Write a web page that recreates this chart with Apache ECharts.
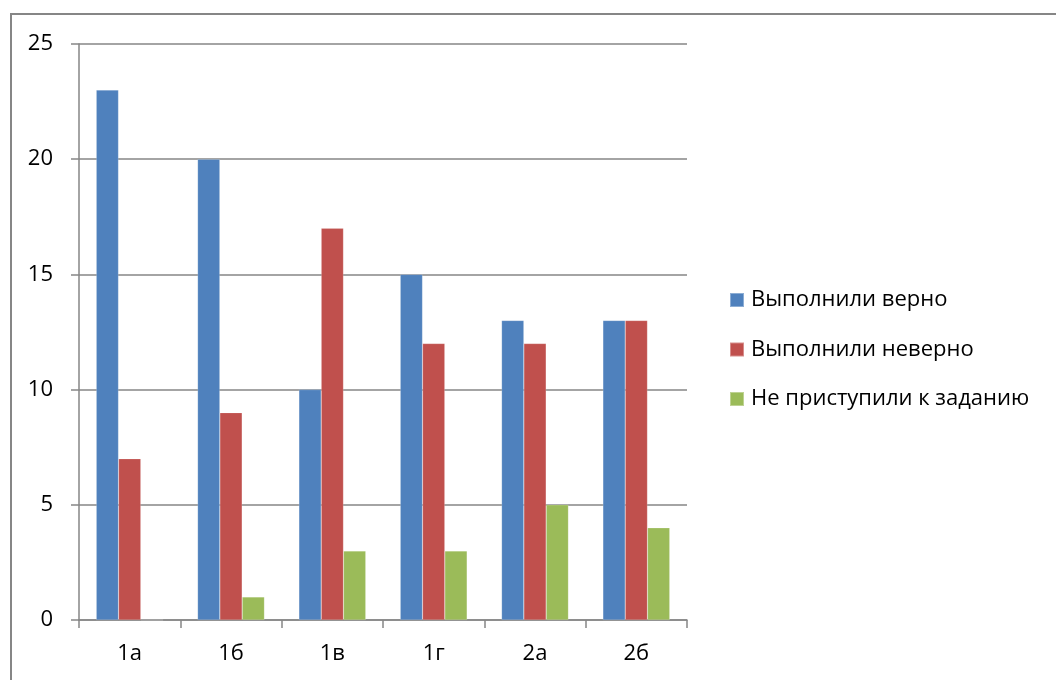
<!DOCTYPE html>
<html>
<head>
<meta charset="utf-8">
<script src="https://cdn.jsdelivr.net/npm/echarts@6/dist/echarts.min.js"></script>
<style>
  html, body { margin: 0; padding: 0; background: #ffffff; }
  #chart { width: 1056px; height: 680px; }
</style>
</head>
<body>
<div id="chart"></div>
<script>
// Task categories along the x axis
const categories = ['1а', '1б', '1в', '1г', '2а', '2б'];

// Number of pupils per outcome
const seriesNames = ['Выполнили верно', 'Выполнили неверно', 'Не приступили к заданию'];
const correct = [23, 20, 10, 15, 13, 13];
const wrong = [7, 9, 17, 12, 12, 13];
const notStarted = [0, 1, 3, 3, 5, 4];

const colors = ['#4F81BD', '#C0504D', '#9BBB59'];
const fontFamily = '"Open Sans", Lato, sans-serif';
const axisGray = '#868686';

const chart = echarts.init(document.getElementById('chart'), null, { renderer: 'canvas' });

const values = [correct, wrong, notStarted];

chart.setOption({
  animation: false,
  color: colors,
  textStyle: { fontFamily: fontFamily, color: '#000' },
  graphic: [{
    type: 'rect',
    shape: { x: 11, y: 14, width: 1100, height: 720 },
    style: { fill: 'none', stroke: axisGray, lineWidth: 2 },
    silent: true
  }],
  grid: { left: 79, right: 369, top: 44, bottom: 60 },
  legend: {
    orient: 'vertical',
    left: 729,
    top: 289,
    padding: 0,
    itemWidth: 14,
    itemHeight: 14,
    itemGap: 27.5,
    icon: 'rect',
    data: seriesNames,
    textStyle: { fontSize: 22, lineHeight: 22, color: '#000', fontFamily: fontFamily, padding: [0, 0, 0, 2] }
  },
  xAxis: {
    type: 'category',
    data: categories,
    axisLine: { lineStyle: { color: axisGray, width: 1.5 } },
    axisTick: { show: true, length: 8, lineStyle: { color: axisGray, width: 1.5 } },
    axisLabel: { fontSize: 22, color: '#000', margin: 23, fontFamily: fontFamily }
  },
  yAxis: {
    type: 'value',
    min: 0,
    max: 25,
    interval: 5,
    axisLine: { show: true, lineStyle: { color: axisGray, width: 1.5 } },
    axisTick: { show: true, length: 8, lineStyle: { color: axisGray, width: 1.5 } },
    splitLine: { show: true, lineStyle: { color: axisGray, width: 1.5 } },
    axisLabel: { fontSize: 22, color: '#000', margin: 26, fontFamily: fontFamily }
  },
  series: seriesNames.map((name, i) => ({
    name: name,
    type: 'bar',
    data: values[i],
    barGap: '0%',
    barCategoryGap: '34%',
    itemStyle: { color: colors[i], borderColor: 'rgba(255,255,255,0.35)', borderWidth: 0.5 }
  }))
});
</script>
</body>
</html>
